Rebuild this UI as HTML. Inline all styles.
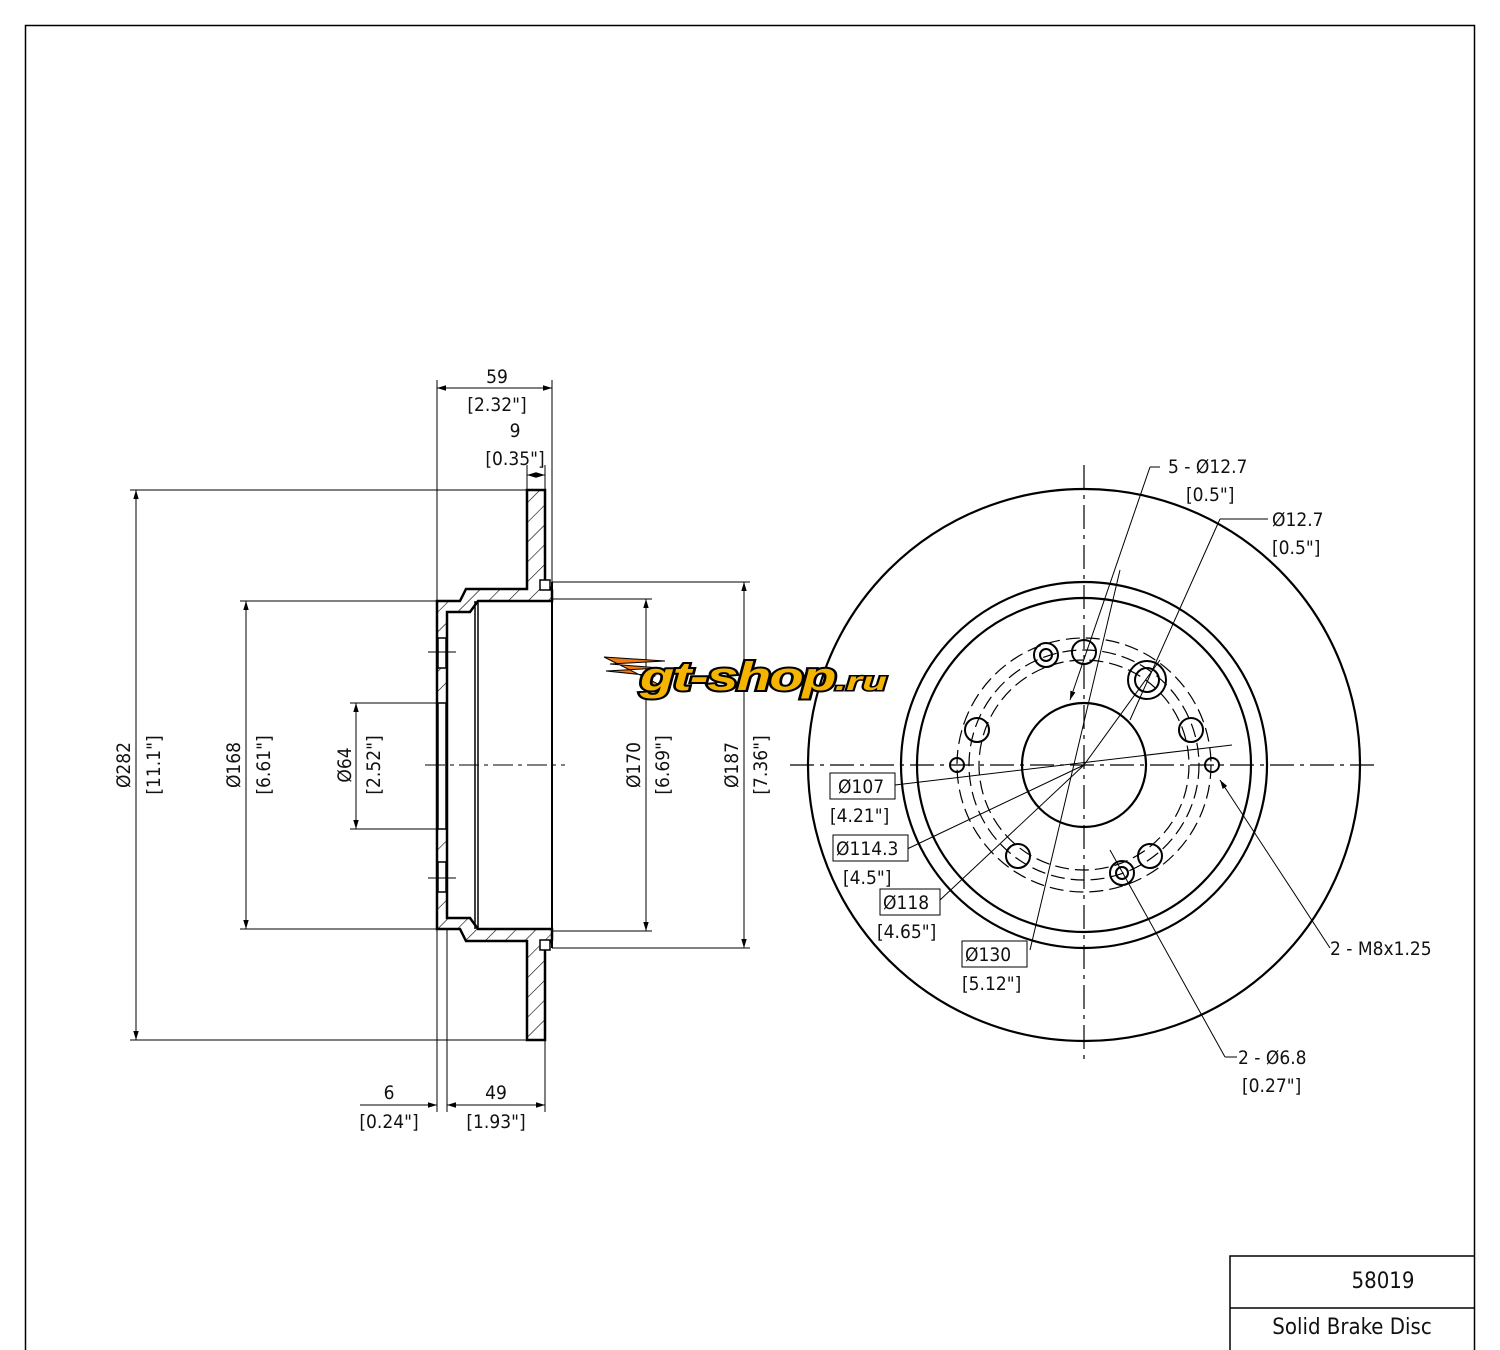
<!DOCTYPE html>
<html><head><meta charset="utf-8"><style>
html,body{margin:0;padding:0;background:#fff}
svg{display:block}
text{font-family:"DejaVu Sans Condensed","Liberation Sans",sans-serif;font-size:19px;fill:#111}
</style></head><body>
<svg width="1500" height="1350" viewBox="0 0 1500 1350" xmlns="http://www.w3.org/2000/svg">
<defs>
<pattern id="h" width="14" height="14" patternUnits="userSpaceOnUse" patternTransform="rotate(45)">
<line x1="0" y1="0" x2="0" y2="14" stroke="#000" stroke-width="1.2"/></pattern>
<marker id="a" viewBox="0 0 10 10" refX="10" refY="5" markerWidth="9" markerHeight="9" orient="auto-start-reverse"><path d="M0,2 L10,5 L0,8 Z" fill="#000"/></marker>
</defs>
<rect x="25.5" y="25.5" width="1449" height="1340" fill="none" stroke="#000" stroke-width="1.5"/>

<!-- Section view -->
<g stroke="#000" fill="none">
<path d="M527,490 L545,490 L545,582 L552,590 L552,601 L478,601 L470,612 L447,612 L447,918 L470,918 L478,929 L552,929 L552,940 L545,948 L545,1040 L527,1040 L527,941 L466,941 L460,929 L437,929 L437,601 L460,601 L466,589 L527,589 Z" fill="url(#h)" stroke-width="2.5"/>
<line x1="475" y1="601" x2="475" y2="929" stroke-width="1.5"/>
<line x1="478" y1="601" x2="478" y2="929" stroke-width="1.5"/>
<line x1="552" y1="582" x2="552" y2="948" stroke-width="2"/>
<rect x="540" y="580" width="10" height="10" fill="#fff" stroke-width="1.5"/>
<rect x="540" y="940" width="10" height="10" fill="#fff" stroke-width="1.5"/>
<rect x="438" y="638" width="8" height="30" fill="#fff" stroke-width="1.5"/>
<rect x="438" y="862" width="8" height="30" fill="#fff" stroke-width="1.5"/>
<rect x="438" y="703" width="8" height="126" fill="#fff" stroke-width="1.5"/>
<line x1="428" y1="652" x2="456" y2="652" stroke-width="1"/>
<line x1="428" y1="878" x2="456" y2="878" stroke-width="1"/>
<line x1="425" y1="765" x2="565" y2="765" stroke-width="1" stroke-dasharray="20,5,4,5"/>
</g>
<!-- Section dims -->
<g stroke="#000" stroke-width="1" fill="none">
<line x1="437" y1="380" x2="437" y2="1112"/>
<line x1="552" y1="380" x2="552" y2="582"/>
<line x1="437" y1="388" x2="552" y2="388" marker-start="url(#a)" marker-end="url(#a)"/>
<line x1="527" y1="465" x2="527" y2="490"/><line x1="545" y1="465" x2="545" y2="490"/>
<line x1="527" y1="475" x2="545" y2="475" marker-start="url(#a)" marker-end="url(#a)"/>
<line x1="447" y1="929" x2="447" y2="1112"/><line x1="545" y1="1040" x2="545" y2="1112"/>
<line x1="447" y1="1105" x2="545" y2="1105" marker-start="url(#a)" marker-end="url(#a)"/>
<line x1="360" y1="1105" x2="437" y2="1105" marker-end="url(#a)"/>
<line x1="447" y1="1105" x2="460" y2="1105" />
<line x1="130" y1="490" x2="527" y2="490"/><line x1="130" y1="1040" x2="527" y2="1040"/>
<line x1="136" y1="490" x2="136" y2="1040" marker-start="url(#a)" marker-end="url(#a)"/>
<line x1="240" y1="601" x2="437" y2="601"/><line x1="240" y1="929" x2="437" y2="929"/>
<line x1="246" y1="601" x2="246" y2="929" marker-start="url(#a)" marker-end="url(#a)"/>
<line x1="350" y1="703" x2="440" y2="703"/><line x1="350" y1="829" x2="440" y2="829"/>
<line x1="356" y1="703" x2="356" y2="829" marker-start="url(#a)" marker-end="url(#a)"/>
<line x1="552" y1="599" x2="652" y2="599"/><line x1="552" y1="931" x2="652" y2="931"/>
<line x1="646" y1="599" x2="646" y2="931" marker-start="url(#a)" marker-end="url(#a)"/>
<line x1="552" y1="582" x2="750" y2="582"/><line x1="552" y1="948" x2="750" y2="948"/>
<line x1="744" y1="582" x2="744" y2="948" marker-start="url(#a)" marker-end="url(#a)"/>
</g>
<text x="497" y="383" text-anchor="middle">59</text>
<text x="497" y="411" text-anchor="middle">[2.32"]</text>
<text x="515" y="437" text-anchor="middle">9</text>
<text x="515" y="465" text-anchor="middle">[0.35"]</text>
<text x="389" y="1099" text-anchor="middle">6</text>
<text x="389" y="1128" text-anchor="middle">[0.24"]</text>
<text x="496" y="1099" text-anchor="middle">49</text>
<text x="496" y="1128" text-anchor="middle">[1.93"]</text>
<g text-anchor="middle">
<text transform="translate(130,765) rotate(-90)">Ø282</text>
<text transform="translate(160,765) rotate(-90)">[11.1"]</text>
<text transform="translate(240,765) rotate(-90)">Ø168</text>
<text transform="translate(270,765) rotate(-90)">[6.61"]</text>
<text transform="translate(351,765) rotate(-90)">Ø64</text>
<text transform="translate(380,765) rotate(-90)">[2.52"]</text>
<text transform="translate(640,765) rotate(-90)">Ø170</text>
<text transform="translate(669,765) rotate(-90)">[6.69"]</text>
<text transform="translate(738,765) rotate(-90)">Ø187</text>
<text transform="translate(767,765) rotate(-90)">[7.36"]</text>
</g>

<!-- Front view -->
<g stroke="#000" fill="none" stroke-width="2.2">
<circle cx="1084" cy="765" r="276"/>
<circle cx="1084" cy="765" r="183"/>
<circle cx="1084" cy="765" r="167"/>
<circle cx="1084" cy="765" r="62"/>
<g stroke-width="2">
<circle cx="1084" cy="652" r="12"/>
<circle cx="1191" cy="730" r="12"/>
<circle cx="1150" cy="856" r="12"/>
<circle cx="1018" cy="856" r="12"/>
<circle cx="977" cy="730" r="12"/>
<circle cx="1147" cy="680" r="19"/><circle cx="1147" cy="680" r="12"/>
<circle cx="1046" cy="655" r="12"/><circle cx="1046" cy="655" r="6"/>
<circle cx="1122" cy="873" r="12"/><circle cx="1122" cy="873" r="6"/>
<circle cx="957" cy="765" r="7"/>
<circle cx="1212" cy="765" r="7"/>
</g>
</g>
<g stroke="#000" fill="none" stroke-width="1.2" stroke-dasharray="14,6">
<circle cx="1084" cy="765" r="105"/>
<circle cx="1084" cy="765" r="115"/>
<circle cx="1084" cy="765" r="127"/>
</g>
<g stroke="#000" stroke-width="1.2" stroke-dasharray="24,6,4,6">
<line x1="790" y1="765" x2="1380" y2="765"/>
<line x1="1084" y1="465" x2="1084" y2="1065"/>
</g>
<g stroke="#000" stroke-width="1" fill="none">
<line x1="1160" y1="467" x2="1150" y2="467"/>
<line x1="1150" y1="467" x2="1070" y2="700" marker-end="url(#a)"/>
<line x1="1268" y1="519" x2="1220" y2="519"/>
<line x1="1220" y1="519" x2="1130" y2="720"/>
<line x1="1084" y1="765" x2="1160" y2="660"/>
<line x1="895" y1="785" x2="1232" y2="745"/>
<line x1="905" y1="850" x2="1084" y2="765"/>
<line x1="940" y1="900" x2="1084" y2="765"/>
<line x1="1030" y1="950" x2="1120" y2="570"/>
<line x1="1330" y1="948" x2="1220" y2="780" marker-end="url(#a)"/>
<line x1="1237" y1="1057" x2="1225" y2="1057"/>
<line x1="1225" y1="1057" x2="1110" y2="850"/>
</g>
<text x="1168" y="473">5 - Ø12.7</text>
<text x="1186" y="501">[0.5"]</text>
<text x="1272" y="526">Ø12.7</text>
<text x="1272" y="554">[0.5"]</text>
<text x="1330" y="955">2 - M8x1.25</text>
<text x="1238" y="1064">2 - Ø6.8</text>
<text x="1242" y="1092">[0.27"]</text>
<g stroke="#000" stroke-width="1" fill="#fff">
<rect x="830" y="773" width="65" height="26"/>
<rect x="833" y="835" width="75" height="26"/>
<rect x="880" y="889" width="60" height="26"/>
<rect x="962" y="941" width="65" height="26"/>
</g>
<text x="838" y="793">Ø107</text><text x="830" y="822">[4.21"]</text>
<text x="836" y="855">Ø114.3</text><text x="843" y="884">[4.5"]</text>
<text x="883" y="909">Ø118</text><text x="877" y="938">[4.65"]</text>
<text x="965" y="961">Ø130</text><text x="962" y="990">[5.12"]</text>

<!-- logo -->
<g>
<path d="M604,657 L665,661 L610,664 L660,668 L606,671 L655,676 L640,684 L650,690 L670,690 Z" fill="#f07a10" stroke="#000" stroke-width="1"/>
<text x="640" y="690" style="font-family:'Liberation Sans',sans-serif;font-size:40px;font-weight:bold;font-style:italic;fill:#f5b400;stroke:#000;stroke-width:4;paint-order:stroke;letter-spacing:-1px" textLength="195" lengthAdjust="spacingAndGlyphs">gt-shop</text>
<text x="835" y="690" style="font-family:'Liberation Sans',sans-serif;font-size:26px;font-weight:bold;font-style:italic;fill:#f5b400;stroke:#000;stroke-width:3;paint-order:stroke" textLength="52" lengthAdjust="spacingAndGlyphs">.ru</text>
</g>

<!-- title block -->
<g stroke="#000" stroke-width="1.5" fill="none">
<path d="M1230,1350 L1230,1256 L1475,1256"/>
<line x1="1230" y1="1308" x2="1475" y2="1308"/>
</g>
<text x="1383" y="1288" text-anchor="middle" style="font-size:22px">58019</text>
<text x="1352" y="1334" text-anchor="middle" style="font-size:22px">Solid Brake Disc</text>
</svg>
</body></html>
